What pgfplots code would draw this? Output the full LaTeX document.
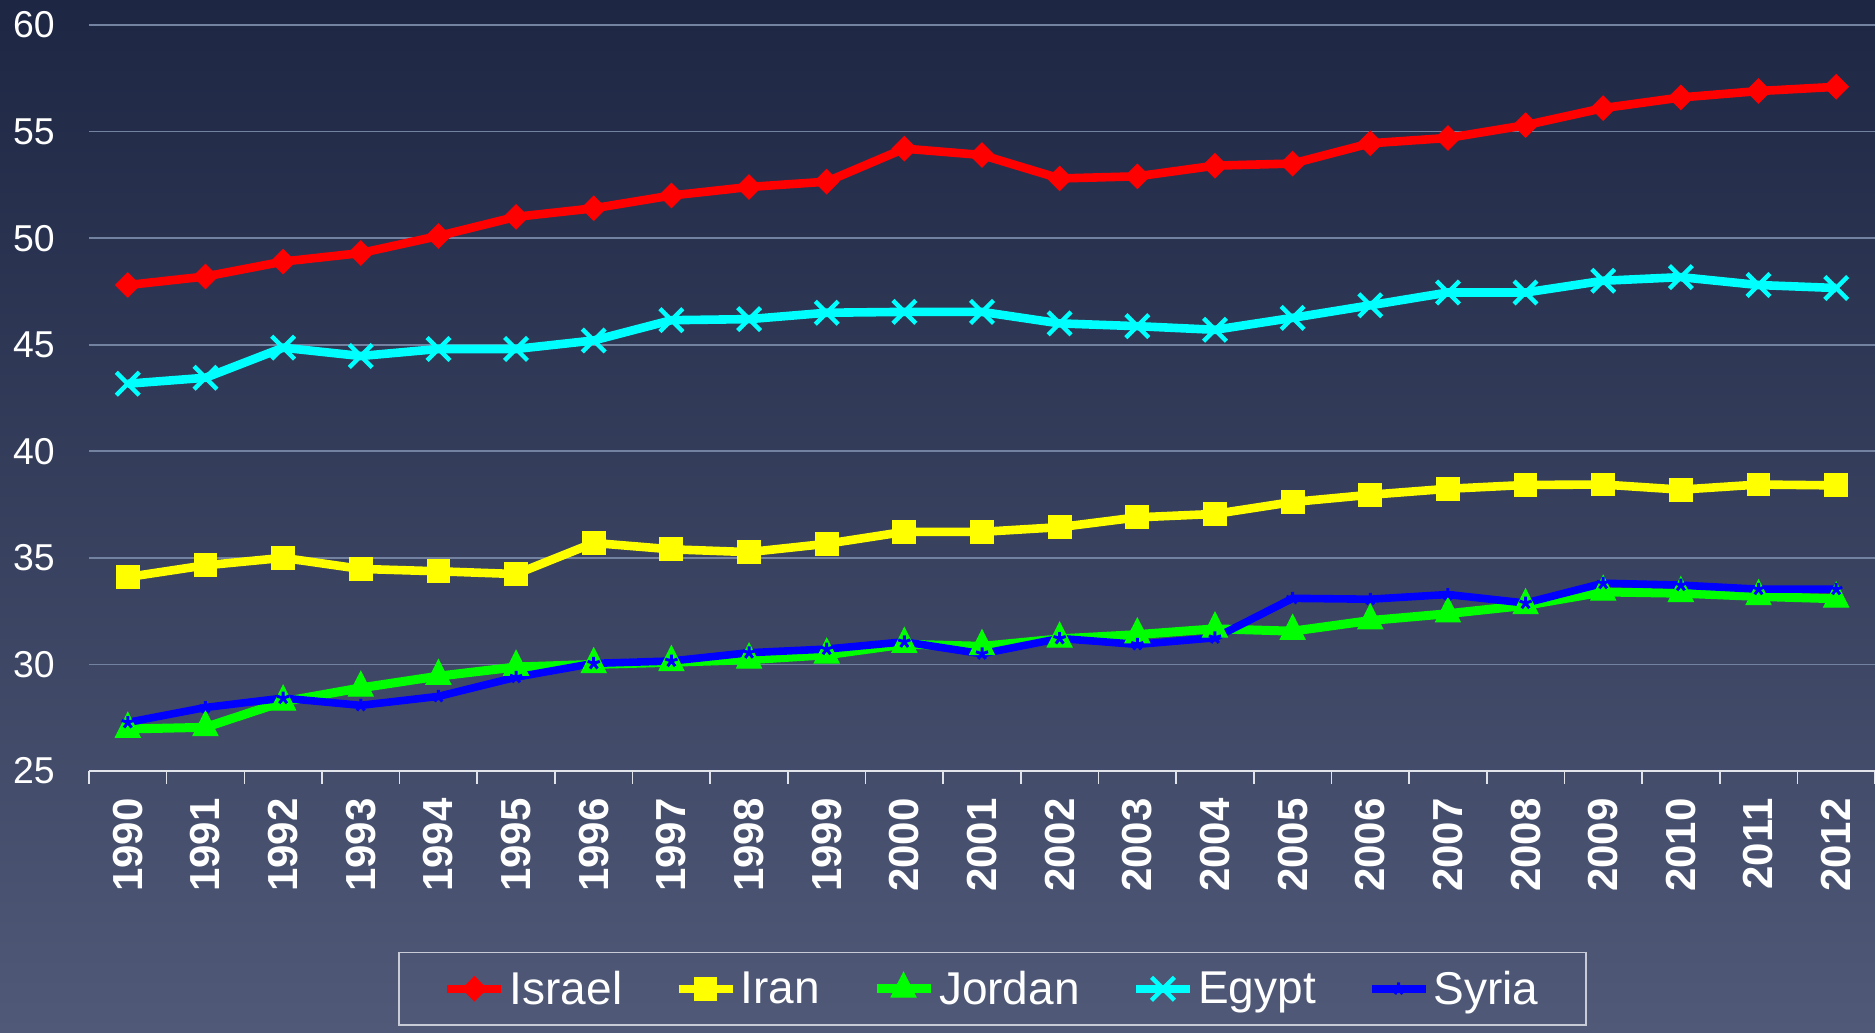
\documentclass[border=0pt]{standalone}
\usepackage{fontspec}
\setmainfont{Liberation Sans}
\usepackage{pgfplots}
\pgfplotsset{compat=1.18}
\definecolor{bgtop}{RGB}{29,39,68}
\definecolor{bgbot}{RGB}{80,90,120}
\definecolor{gridc}{RGB}{115,130,160}
\definecolor{axc}{RGB}{225,228,235}
\definecolor{legc}{RGB}{200,204,215}
\definecolor{cRed}{RGB}{255,0,0}
\definecolor{cYel}{RGB}{255,255,0}
\definecolor{cGrn}{RGB}{0,255,0}
\definecolor{cCyn}{RGB}{0,255,255}
\definecolor{cBlu}{RGB}{0,0,255}
\begin{document}
\begin{tikzpicture}
\useasboundingbox (0,0) rectangle (937.5bp,516.5bp);
\shade[top color=bgtop, bottom color=bgbot] (0,0) rectangle (937.5bp,516.5bp);
\begin{axis}[
  at={(44.5bp,131bp)}, anchor=south west,
  scale only axis, width=893bp, height=373bp,
  xmin=-0.5, xmax=22.5, ymin=25, ymax=60,
  axis x line*=bottom, axis y line*=left,
  y axis line style={draw=none},
  x axis line style={draw=axc, line width=0.8bp},
  tick align=outside,
  major tick length=0pt,
  minor tick length=6.5bp,
  xtick={0,...,22},
  xticklabels={1990,1991,1992,1993,1994,1995,1996,1997,1998,1999,2000,2001,2002,2003,2004,2005,2006,2007,2008,2009,2010,2011,2012},
  minor xtick={-0.5,0.5,...,22.5},
  minor x tick style={draw=axc, line width=0.8bp},
  ytick={25,30,...,60},
  ymajorgrids,
  grid style={draw=gridc, line width=0.8bp},
  /pgf/number format/assume math mode=true,
  xticklabel style={rotate=90, anchor=east, inner xsep=13.5bp, inner ysep=0pt, text=white, font=\fontsize{21bp}{24bp}\selectfont\bfseries},
  yticklabel style={anchor=east, inner xsep=0pt, xshift=-17bp, text=white, font=\fontsize{18.7bp}{22bp}\selectfont},
  clip=false,
  legend columns=5,
  legend style={at={(0.506,-0.292)}, anchor=center, draw=legc, line width=0.8bp, fill=none, text=white,
    font=\fontsize{23bp}{26bp}\selectfont, inner xsep=22bp, inner ysep=7bp,
    /tikz/every even column/.append style={column sep=24bp}},
  legend image code/.code={\draw[mark repeat=2,mark phase=2] plot coordinates {(0bp,0bp)(13.5bp,0bp)(27bp,0bp)};},
]
\addplot[color=cRed, line width=4.3bp, mark=square*, mark size=4.3bp, mark options={rotate=45, line width=0.5bp, fill=cRed}] coordinates {
(0,47.8)(1,48.2)(2,48.9)(3,49.3)(4,50.1)(5,51.0)(6,51.4)(7,52.0)(8,52.4)(9,52.65)(10,54.2)(11,53.9)
(12,52.8)(13,52.9)(14,53.4)(15,53.5)(16,54.45)(17,54.7)(18,55.3)(19,56.1)(20,56.6)(21,56.9)(22,57.1)};
\addlegendentry{Israel}
\addplot[color=cYel, line width=4.3bp, mark=square*, mark size=5.7bp, mark options={line width=0.5bp, fill=cYel, rounded corners=1.5bp}] coordinates {
(0,34.1)(1,34.65)(2,35.0)(3,34.48)(4,34.37)(5,34.24)(6,35.7)(7,35.4)(8,35.27)(9,35.66)(10,36.22)(11,36.22)
(12,36.44)(13,36.9)(14,37.06)(15,37.62)(16,37.96)(17,38.24)(18,38.42)(19,38.44)(20,38.2)(21,38.44)(22,38.4)};
\addlegendentry{Iran}
\addplot[color=cGrn, line width=4.5bp, mark=triangle*, mark size=7.2bp, mark options={line width=0.5bp, fill=cGrn, yscale=1.15}] coordinates {
(0,26.97)(1,27.05)(2,28.25)(3,28.9)(4,29.45)(5,29.88)(6,30.0)(7,30.1)(8,30.22)(9,30.45)(10,30.95)(11,30.85)
(12,31.2)(13,31.4)(14,31.67)(15,31.56)(16,32.06)(17,32.38)(18,32.77)(19,33.4)(20,33.34)(21,33.19)(22,33.08)};
\addlegendentry{Jordan}
\addplot[color=cCyn, line width=4.3bp, mark=x, mark size=8.1bp, mark options={line width=2.2bp}] coordinates {
(0,43.17)(1,43.45)(2,44.86)(3,44.47)(4,44.8)(5,44.8)(6,45.2)(7,46.15)(8,46.2)(9,46.5)(10,46.54)(11,46.54)
(12,46.0)(13,45.87)(14,45.7)(15,46.26)(16,46.85)(17,47.45)(18,47.45)(19,48.0)(20,48.17)(21,47.8)(22,47.66)};
\addlegendentry{Egypt}
\addplot[color=cBlu, line width=3.8bp, mark=star, mark size=3.2bp, mark options={line width=1.5bp}] coordinates {
(0,27.28)(1,27.98)(2,28.42)(3,28.08)(4,28.5)(5,29.4)(6,30.05)(7,30.16)(8,30.55)(9,30.72)(10,31.06)(11,30.5)
(12,31.22)(13,30.94)(14,31.25)(15,33.1)(16,33.06)(17,33.28)(18,32.88)(19,33.81)(20,33.72)(21,33.53)(22,33.53)};
\addlegendentry{Syria}
\end{axis}
\end{tikzpicture}
\end{document}
